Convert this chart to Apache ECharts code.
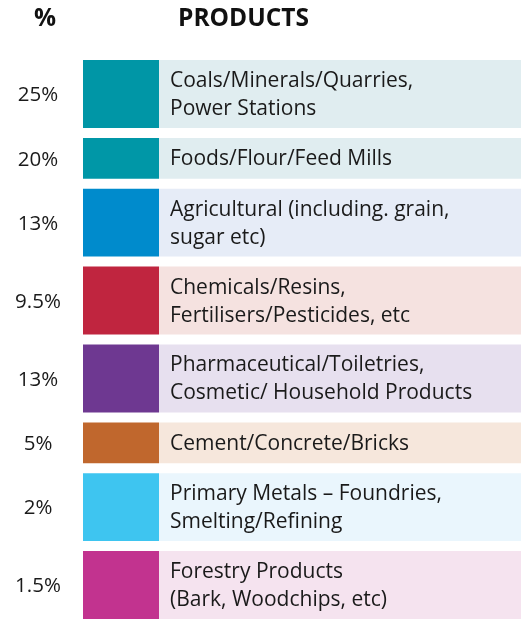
<!DOCTYPE html>
<html>
<head>
<meta charset="utf-8">
<script src="https://cdn.jsdelivr.net/npm/echarts@6/dist/echarts.min.js"></script>
<style>html,body{margin:0;padding:0;background:#fff;}#c{width:521px;height:619px;}</style>
</head>
<body>
<div id="c"></div>
<script>
var percentLabels = ['25%', '20%', '13%', '9.5%', '13%', '5%', '2%', '1.5%'];
var products = [
  'Coals/Minerals/Quarries,\nPower Stations',
  'Foods/Flour/Feed Mills',
  'Agricultural (including. grain,\nsugar etc)',
  'Chemicals/Resins,\nFertilisers/Pesticides, etc',
  'Pharmaceutical/Toiletries,\nCosmetic/ Household Products',
  'Cement/Concrete/Bricks',
  'Primary Metals \u2013 Foundries,\nSmelting/Refining',
  'Forestry Products\n(Bark, Woodchips, etc)'
];
var swatchColors = ['#0096a6', '#0097a7', '#008bcc', '#c0253f', '#6e3891', '#c0672d', '#3ec5f0', '#c2338f'];
var bgColors = ['#e0edf0', '#e0edf0', '#e6ecf7', '#f5e2e0', '#e7e0ef', '#f6e7dc', '#eaf6fd', '#f5e3ef'];
var headerPercent = '%';
var headerProducts = 'PRODUCTS';

// layout derived from the number of text lines per row
var ONE_LINE_H = 41, EXTRA_LINE_H = 27.3, GAP = 10;
var rows = [];
var cursor = 0;
products.forEach(function (p, i) {
  var lines = p.split('\n').length;
  var h = ONE_LINE_H + EXTRA_LINE_H * (lines - 1);
  rows.push([cursor, cursor + h, i]);
  cursor += h + GAP;
});
var totalSpan = cursor - GAP;

var FONT = '"Open Sans", "Noto Sans", sans-serif';
var chart = echarts.init(document.getElementById('c'), null, { renderer: 'canvas' });
chart.setOption({
  animation: false,
  backgroundColor: '#ffffff',
  graphic: [
    { type: 'text', left: 34, top: 7, style: { text: headerPercent, font: 'bold 24.5px ' + FONT, fill: '#111' } },
    { type: 'text', left: 178, top: 7, style: { text: headerProducts, font: 'bold 24.5px ' + FONT, fill: '#111' } }
  ],
  grid: { left: 0, right: 0, top: 60, height: totalSpan },
  xAxis: { type: 'value', min: 0, max: 521, show: false },
  yAxis: { type: 'value', min: 0, max: totalSpan, inverse: true, show: false },
  series: [{
    type: 'custom',
    data: rows,
    renderItem: function (params, api) {
      var i = api.value(2);
      var tl = api.coord([83, api.value(0)]);
      var br = api.coord([159, api.value(1)]);
      var bgR = api.coord([521, api.value(1)]);
      var pc = api.coord([38, 0]);
      var tx = api.coord([170, 0]);
      var midY = (tl[1] + br[1]) / 2;
      return {
        type: 'group',
        children: [
          { type: 'rect', shape: { x: tl[0], y: tl[1], width: br[0] - tl[0], height: br[1] - tl[1] }, style: { fill: swatchColors[i] } },
          { type: 'rect', shape: { x: br[0], y: tl[1], width: bgR[0] - br[0], height: br[1] - tl[1] }, style: { fill: bgColors[i] } },
          { type: 'text', x: pc[0], y: midY + 1.5, style: { text: percentLabels[i], font: '20.5px ' + FONT, fill: '#1a1a1a', align: 'center', verticalAlign: 'middle' } },
          { type: 'text', x: tx[0], y: midY + 1, style: { text: products[i], font: '21px ' + FONT, lineHeight: 28, fill: '#1a1a1a', align: 'left', verticalAlign: 'middle' } }
        ]
      };
    }
  }]
});
</script>
</body>
</html>
